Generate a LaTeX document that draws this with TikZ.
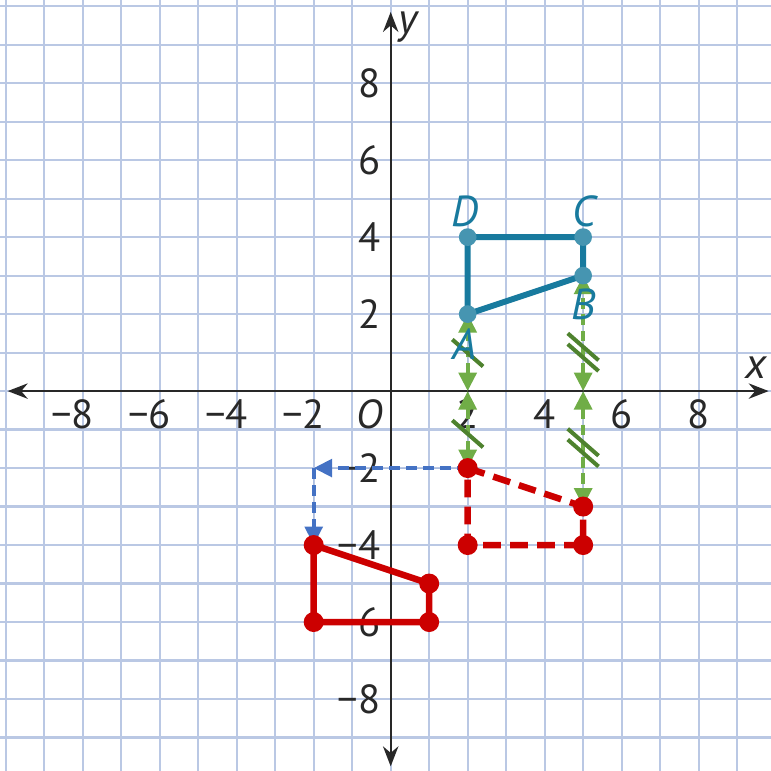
\documentclass[tikz,border=0pt]{standalone}
\usepackage{fontspec}
\setmainfont{PT Sans}
\usetikzlibrary{arrows.meta,calc}
\definecolor{gridblue}{RGB}{186,200,228}
\definecolor{axisgray}{RGB}{40,40,40}
\definecolor{figteal}{RGB}{24,122,158}
\definecolor{figred}{RGB}{204,0,0}
\definecolor{movegreen}{RGB}{112,173,71}
\definecolor{tickgreen}{RGB}{78,130,46}
\definecolor{moveblue}{RGB}{68,114,196}
\tikzset{
  gridline/.style={draw=gridblue, line width=0.8pt},
  axisline/.style={{Stealth[length=2.6mm,width=2mm]}-{Stealth[length=2.6mm,width=2mm]}, draw=axisgray, line width=0.8pt},
  numlabel/.style={font=\fontsize{15}{17}\selectfont, text=axisgray, inner sep=0pt},
  ptlabel/.style={font=\fontsize{16}{18}\selectfont\itshape, inner sep=0pt},
}

\begin{document}
\begin{tikzpicture}[
  x=0.5cm, y=0.5cm,
  shapeA/.style={draw=figteal, line width=2.2pt, line join=round},
  shapeB/.style={draw=figred, line width=2.4pt, dash pattern=on 2.3mm off 1.2mm, line join=round},
  shapeC/.style={draw=figred, line width=2.4pt, line join=round},
  tealdot/.style={circle, fill=figteal!80, inner sep=0pt, minimum size=2.3mm},
  reddot/.style={circle, fill=figred, inner sep=0pt, minimum size=2.6mm},
  slide/.style={{Triangle[length=2.4mm,width=2.3mm]}-{Triangle[length=2.4mm,width=2.3mm]}, draw=movegreen, fill=movegreen, line width=1.5pt, dash pattern=on 1.4mm off 0.7mm},
  slideblue/.style={-{Triangle[length=2.4mm,width=2.3mm]}, draw=moveblue, fill=moveblue, line width=1.4pt, dash pattern=on 1.4mm off 0.8mm},
  tickmark/.style={draw=tickgreen, line width=1.5pt},
]
  \useasboundingbox (-10.15,-9.87) rectangle (9.88,10.16);
  \begin{scope}
    \clip (-10.15,-9.87) rectangle (9.88,10.16);
    \foreach \k in {-10,...,10}
      \draw[gridline] (\k,-11) -- (\k,11) (-11,\k) -- (11,\k);
  \end{scope}

  % axes
  \coordinate (xl) at (-9.95,0);
  \coordinate (xr) at (9.82,0);
  \coordinate (yb) at (0,-9.75);
  \coordinate (yt) at (0,9.85);
  \draw[axisline] (xl) -- (xr);
  \draw[axisline] (yb) -- (yt);
  \node[ptlabel, text=axisgray] (xlab) at (9.5,0.62) {x};
  \node[ptlabel, text=axisgray] (ylab) at (0.45,9.45) {y};
  \node[numlabel, font=\fontsize{15}{17}\selectfont\itshape] (orig) at (-0.55,-0.6) {O};
  \foreach \v in {2,4,6,8} {
    \node[numlabel] at (\v,-0.6) {\v};
    \node[numlabel] at (-\v,-0.6) {\llap{−}\v};
    \node[numlabel] at (-0.55,\v) {\v};
    \node[numlabel] at (-0.55,-\v) {\llap{−}\v};
  }

  % points
  \coordinate (A) at (2,2);
  \coordinate (B) at (5,3);
  \coordinate (C) at (5,4);
  \coordinate (D) at (2,4);
  \coordinate (A1) at (2,-2);
  \coordinate (B1) at (5,-3);
  \coordinate (C1) at (5,-4);
  \coordinate (D1) at (2,-4);
  \coordinate (A2) at (-2,-4);
  \coordinate (B2) at (1,-5);
  \coordinate (C2) at (1,-6);
  \coordinate (D2) at (-2,-6);
  \coordinate (Ax) at (2,0);
  \coordinate (Bx) at (5,0);
  \coordinate (turn) at (-2,-2);

  % reflection in the x-axis
  \draw[shapeB] (A1) -- (B1) -- (C1) -- (D1) -- cycle;
  \draw[slide] (Ax) -- (A);
  \draw[slide] (Ax) -- (A1);
  \draw[slide] (Bx) -- (B);
  \draw[slide] (Bx) -- (B1);
  \draw[tickmark] (1.6,1.34) -- (2.4,0.64);
  \draw[tickmark] (1.6,-0.76) -- (2.4,-1.46);
  \draw[tickmark] (4.6,1.5) -- (5.4,0.8);
  \draw[tickmark] (4.6,1.22) -- (5.4,0.52);
  \draw[tickmark] (4.6,-0.98) -- (5.4,-1.68);
  \draw[tickmark] (4.6,-1.26) -- (5.4,-1.96);

  % translation
  \draw[slideblue] (A1) -- (turn);
  \draw[slideblue] (turn) -- (A2);

  % figures
  \draw[shapeA] (A) -- (B) -- (C) -- (D) -- cycle;
  \draw[shapeC] (A2) -- (B2) -- (C2) -- (D2) -- cycle;
  \foreach \p in {A,B,C,D}
    \node[tealdot] at (\p) {};
  \foreach \p in {A1,B1,C1,D1,A2,B2,C2,D2}
    \node[reddot] at (\p) {};

  \node[ptlabel, text=figteal] (lA) at (1.92,1.22) {A};
  \node[ptlabel, text=figteal] (lB) at (5.0,2.25) {B};
  \node[ptlabel, text=figteal] (lC) at (5.04,4.68) {C};
  \node[ptlabel, text=figteal] (lD) at (1.92,4.68) {D};
\end{tikzpicture}
\end{document}
